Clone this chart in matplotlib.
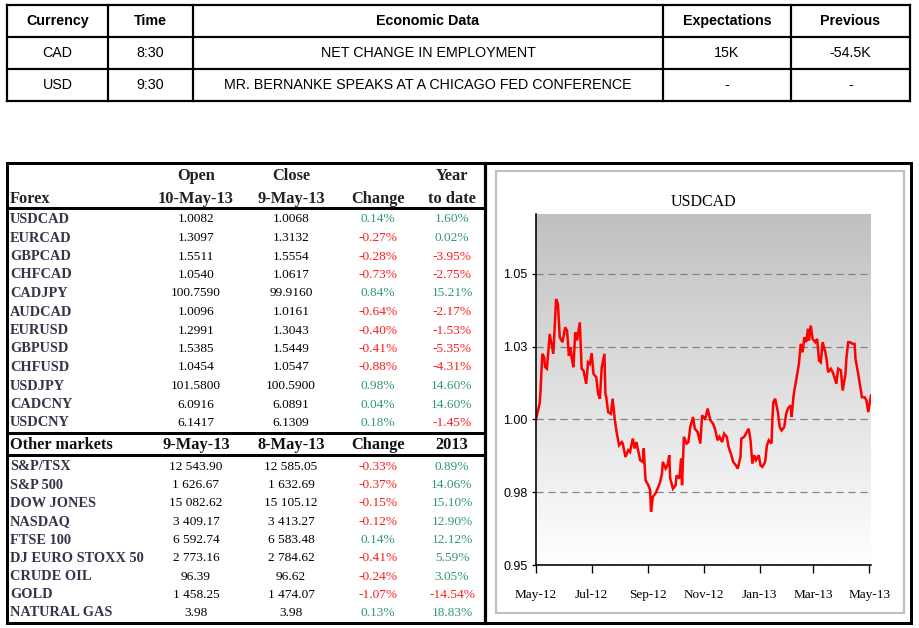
import matplotlib
matplotlib.use('Agg')
import matplotlib.pyplot as plt
import matplotlib.dates as mdates
from matplotlib import font_manager
from matplotlib.patches import Rectangle
from matplotlib.colors import LinearSegmentedColormap
import numpy as np
import pandas as pd

# ---------------- data ----------------
cal_headers = ['Currency', 'Time', 'Economic Data', 'Expectations', 'Previous']
cal_currency = ['CAD', 'USD']
cal_time = ['8:30', '9:30']
cal_event = ['NET CHANGE IN EMPLOYMENT', 'MR. BERNANKE SPEAKS AT A CHICAGO FED CONFERENCE']
cal_expect = ['15K', '-']
cal_previous = ['-54.5K', '-']

fx_header_top = ['', 'Open', 'Close', '', 'Year']
fx_header_bot = ['Forex', '10-May-13', '9-May-13', 'Change', 'to date']
fx_names = ['USDCAD', 'EURCAD', 'GBPCAD', 'CHFCAD', 'CADJPY', 'AUDCAD',
            'EURUSD', 'GBPUSD', 'CHFUSD', 'USDJPY', 'CADCNY', 'USDCNY']
fx_open = [1.0082, 1.3097, 1.5511, 1.0540, 100.7590, 1.0096,
           1.2991, 1.5385, 1.0454, 101.5800, 6.0916, 6.1417]
fx_close = [1.0068, 1.3132, 1.5554, 1.0617, 99.9160, 1.0161,
            1.3043, 1.5449, 1.0547, 100.5900, 6.0891, 6.1309]
fx_change = [0.14, -0.27, -0.28, -0.73, 0.84, -0.64, -0.40, -0.41, -0.88, 0.98, 0.04, 0.18]
fx_ytd = [1.60, 0.02, -3.95, -2.75, 15.21, -2.17, -1.53, -5.35, -4.31, 14.60, 14.60, -1.45]

mk_header = ['Other markets', '9-May-13', '8-May-13', 'Change', '2013']
mk_names = ['S&P/TSX', 'S&P 500', 'DOW JONES', 'NASDAQ', 'FTSE 100',
            'DJ EURO STOXX 50', 'CRUDE OIL', 'GOLD', 'NATURAL GAS']
mk_last = [12543.90, 1626.67, 15082.62, 3409.17, 6592.74, 2773.16, 96.39, 1458.25, 3.98]
mk_prev = [12585.05, 1632.69, 15105.12, 3413.27, 6583.48, 2784.62, 96.62, 1474.07, 3.98]
mk_change = [-0.33, -0.37, -0.15, -0.12, 0.14, -0.41, -0.24, -1.07, 0.13]
mk_ytd = [0.89, 14.06, 15.10, 12.90, 12.12, 5.59, 3.05, -14.54, 18.83]

chart_title = 'USDCAD'
start_date = '2012-05-01'
days = [0, 4, 5, 6, 7, 9, 10, 12, 15, 17,
        19, 22, 24, 26, 29, 32, 34, 36, 38, 39,
        41, 43, 45, 48, 50, 52, 55, 57, 59, 61,
        63, 66, 68, 70, 72, 75, 76, 77, 79, 82,
        84, 86, 88, 91, 94, 95, 98, 101, 103, 106,
        108, 110, 113, 114, 117, 118, 120, 123, 125, 126,
        128, 131, 134, 136, 138, 139, 142, 144, 146, 147,
        150, 153, 154, 157, 159, 160, 162, 165, 167, 169,
        172, 174, 177, 180, 182, 185, 186, 188, 191, 194,
        196, 199, 201, 204, 206, 209, 211, 214, 216, 219,
        221, 224, 225, 228, 231, 233, 235, 237, 239, 241,
        244, 246, 248, 251, 253, 255, 258, 259, 260, 262,
        265, 267, 269, 272, 274, 276, 279, 280, 282, 283,
        285, 288, 290, 292, 294, 296, 298, 299, 301, 303,
        306, 308, 310, 312, 314, 317, 318, 320, 323, 325,
        327, 329, 331, 334, 336, 339, 340, 342, 344, 347,
        349, 350, 353, 355, 356, 357, 360, 362, 364, 366,
        367]
usdcad = [1.000, 1.0055, 1.0099, 1.0168, 1.0225, 1.0213, 1.0179, 1.0174, 1.0293, 1.0259,
          1.0225, 1.0413, 1.0396, 1.0282, 1.0265, 1.0316, 1.0305, 1.0219, 1.0248, 1.0213,
          1.0179, 1.0299, 1.0271, 1.0333, 1.0174, 1.0168, 1.0122, 1.0196, 1.0190, 1.0227,
          1.0156, 1.0145, 1.0088, 1.0071, 1.0179, 1.0225, 1.0088, 1.0076, 1.0025, 1.0019,
          1.0071, 1.0008, 0.9962, 0.9911, 0.9922, 0.9917, 0.9871, 0.9894, 0.9888, 0.9934,
          0.9900, 0.9922, 0.9877, 0.9860, 0.9854, 0.9900, 0.9791, 0.9774, 0.9757, 0.9683,
          0.9734, 0.9746, 0.9768, 0.9785, 0.9814, 0.9854, 0.9831, 0.9842, 0.9877, 0.9797,
          0.9762, 0.9774, 0.9808, 0.9797, 0.9866, 0.9774, 0.9940, 0.9917, 0.9922, 0.9974,
          1.0008, 0.9968, 0.9957, 0.9917, 1.0014, 1.0002, 1.0008, 1.0037, 0.9997, 0.9985,
          0.9968, 0.9928, 0.9940, 0.9922, 0.9951, 0.9940, 0.9905, 0.9877, 0.9854, 0.9842,
          0.9831, 0.9871, 0.9934, 0.9940, 0.9957, 0.9968, 0.9928, 0.9848, 0.9877, 0.9860,
          0.9877, 0.9842, 0.9837, 0.9854, 0.9911, 0.9928, 0.9917, 1.0002, 1.0059, 1.0071,
          1.0025, 0.9974, 0.9962, 0.9974, 1.0019, 1.0037, 1.0048, 1.0008, 1.0076, 1.0099,
          1.0134, 1.0190, 1.0259, 1.0230, 1.0282, 1.0265, 1.0311, 1.0271, 1.0322, 1.0276,
          1.0265, 1.0276, 1.0202, 1.0196, 1.0265, 1.0230, 1.0213, 1.0162, 1.0174, 1.0162,
          1.0145, 1.0122, 1.0174, 1.0168, 1.0099, 1.0156, 1.0208, 1.0265, 1.0265, 1.0259,
          1.0259, 1.0208, 1.0156, 1.0116, 1.0099, 1.0076, 1.0076, 1.0065, 1.0025, 1.0065,
          1.0082]
y_ticks = [0.95, 0.975, 1.00, 1.025, 1.05]
y_tick_labels = ['0.95', '0.98', '1.00', '1.03', '1.05']
x_range = ['2012-05-01', '2013-05-03']

# ---------------- fonts ----------------
SANS = ['Liberation Sans', 'DejaVu Sans']
SERIF = ['Liberation Serif', 'DejaVu Serif']
cal_fs = 10.3

W, H = 919, 628
fig = plt.figure(figsize=(W / 100, H / 100), dpi=100)
lay = fig.add_axes([0, 0, 1, 1])
lay.set_xlim(0, W)
lay.set_ylim(H, 0)
lay.axis('off')

PX = 0.72  # points per pixel

# ---------------- calendar table ----------------
cal_x = [7, 108, 193, 663, 791, 910]
cal_y = [5, 37, 69, 101]
for x in cal_x:
    lay.plot([x, x], [cal_y[0], cal_y[-1]], color='black', lw=2.2 * PX, solid_capstyle='projecting')
for y in cal_y:
    lay.plot([cal_x[0], cal_x[-1]], [y, y], color='black', lw=2.2 * PX, solid_capstyle='projecting')
cal_rows = [cal_headers] + [list(r) for r in zip(cal_currency, cal_time, cal_event, cal_expect, cal_previous)]
for r, row in enumerate(cal_rows):
    yc = (cal_y[r] + cal_y[r + 1]) / 2
    for c, txt in enumerate(row):
        xc = (cal_x[c] + cal_x[c + 1]) / 2
        lay.text(xc, yc, txt, ha='center', va='center', family=SANS, fontsize=cal_fs,
                 fontweight='bold' if r == 0 else 'normal', color='black')

# ---------------- lower frame ----------------
lay.add_patch(Rectangle((7, 163), 904, 460, fill=False, edgecolor='black', lw=3 * PX))
lay.plot([485, 485], [163, 623], color='black', lw=3.2 * PX)
for y in [208, 433, 455]:
    lay.plot([7, 485], [y, y], color='black', lw=3 * PX)

# ---------------- market table ----------------
col_x = [10, 196, 291, 378, 452]
NAME_C = '#34344a'
GREEN = '#2f9a6a'
RED = '#ff1a1a'
HDR_FS = 11.8
NAME_FS = 10.4
ROW_FS = 9.6

def pct(v):
    return f'{v:.2f}%'

def num(v, d):
    return f'{v:,.{d}f}'.replace(',', ' ')

for c, txt in enumerate(fx_header_top):
    if txt:
        lay.text(col_x[c], 176, txt, ha='center', va='center', family=SERIF,
                 fontsize=HDR_FS, fontweight='bold', color='#222222')
for c, txt in enumerate(fx_header_bot):
    lay.text(col_x[c], 199, txt, ha='left' if c == 0 else 'center', va='center', family=SERIF,
             fontsize=HDR_FS, fontweight='bold', color='#222222')
for c, txt in enumerate(mk_header):
    lay.text(col_x[c], 445, txt, ha='left' if c == 0 else 'center', va='center', family=SERIF,
             fontsize=HDR_FS, fontweight='bold', color='#111111')

def draw_rows(names, a, b, chg, ytd, y0, dy, dec):
    for i in range(len(names)):
        y = y0 + dy * i
        lay.text(col_x[0], y, names[i], ha='left', va='center', family=SERIF,
                 fontsize=NAME_FS, fontweight='bold', color=NAME_C)
        lay.text(col_x[1], y, num(a[i], dec), ha='center', va='center', family=SERIF,
                 fontsize=ROW_FS, color='black')
        lay.text(col_x[2], y, num(b[i], dec), ha='center', va='center', family=SERIF,
                 fontsize=ROW_FS, color='black')
        lay.text(col_x[3], y, pct(chg[i]), ha='center', va='center', family=SERIF,
                 fontsize=ROW_FS, color=GREEN if chg[i] >= 0 else RED)
        lay.text(col_x[4], y, pct(ytd[i]), ha='center', va='center', family=SERIF,
                 fontsize=ROW_FS, color=GREEN if ytd[i] >= 0 else RED)

draw_rows(fx_names, fx_open, fx_close, fx_change, fx_ytd, 219.5, 18.5, 4)
draw_rows(mk_names, mk_last, mk_prev, mk_change, mk_ytd, 467, 18.25, 2)

# ---------------- chart panel ----------------
lay.add_patch(Rectangle((496, 171), 408, 442, fill=False, edgecolor='#c0c0c0', lw=2.2 * PX))

ax = fig.add_axes([536 / W, 1 - 565 / H, (871 - 536) / W, (565 - 214) / H])
dates = pd.Timestamp(start_date) + pd.to_timedelta(days, unit='D')
cmap = LinearSegmentedColormap.from_list('g', ['#c0c0c0', '#ffffff'])
ax.imshow(np.linspace(0, 1, 256).reshape(-1, 1), cmap=cmap, extent=[0, 1, 0, 1],
          transform=ax.transAxes, aspect='auto', zorder=0, interpolation='bicubic')
ax.plot(dates, usdcad, color='#ff0000', lw=2.5 * PX, zorder=3, solid_joinstyle='miter')
ax.set_xlim(pd.Timestamp(x_range[0]), pd.Timestamp(x_range[1]))
ax.set_ylim(0.95, 1.0705)
ax.set_yticks(y_ticks)
ax.set_yticklabels(y_tick_labels)
ax.xaxis.set_major_locator(mdates.MonthLocator(bymonth=[1, 3, 5, 7, 9, 11]))
ax.xaxis.set_major_formatter(mdates.DateFormatter('%b-%y'))
ax.grid(axis='y', color='#808080', lw=1.2 * PX, ls=(0, (6, 4)), zorder=1)
ax.set_axisbelow(False)
for s in ['top', 'right']:
    ax.spines[s].set_visible(False)
for s in ['left', 'bottom']:
    ax.spines[s].set_linewidth(1.6 * PX)
    ax.spines[s].set_zorder(4)
ax.tick_params(axis='x', direction='out', length=6, width=1.3 * PX, pad=11,
               labelsize=9.5, labelfontfamily=SERIF[0])
ax.tick_params(axis='y', direction='out', length=3, width=1.3 * PX, pad=3,
               labelsize=9, labelfontfamily=SANS[0])
ax.set_title(chart_title, family=SERIF, fontsize=11.5, pad=6)

fig.savefig('out.png', dpi=100)
